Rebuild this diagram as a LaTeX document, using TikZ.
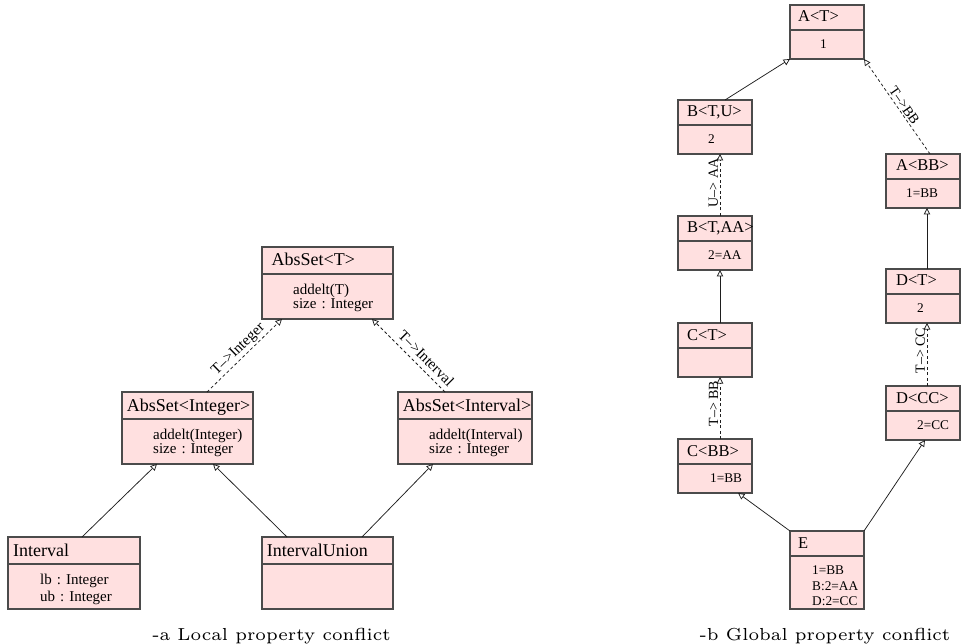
\documentclass[tikz,border=0pt]{standalone}
\usepackage{fontspec}
\usepackage{graphicx}
\newfontfamily\umlfont{Liberation Serif}
\usetikzlibrary{arrows.meta}
\frenchspacing

\definecolor{classfill}{RGB}{255,224,224}
\definecolor{classline}{RGB}{75,75,75}
\definecolor{linkline}{RGB}{30,30,30}

\tikzset{
  classbox/.style={draw=classline, fill=classfill, line width=1.1pt,
    inner sep=0pt, outer sep=0pt, anchor=north west},
  classrule/.style={draw=classline, line width=1.1pt},
  titletext/.style={anchor=base west, inner sep=0pt,
    font=\umlfont\fontsize{18}{20}\selectfont},
  bodytext/.style={anchor=base west, inner sep=0pt, text width=120pt, align=left,
    font=\umlfont\fontsize{15}{14}\selectfont},
  inherit/.style={draw=linkline, line width=0.75pt,
    -{Triangle[open, length=6.5pt, width=6.5pt, line width=0.75pt]}},
  bind/.style={inherit, dash pattern=on 3pt off 2.5pt},
  bindlabel/.style={sloped, inner sep=1.5pt, font=\umlfont\fontsize{15}{16}\selectfont},
  caption/.style={inner sep=0pt, anchor=base},
}

% #1 name, #2 top-left corner, #3 width, #4 height, #5 title indent,
% #6 title, #7 body indent, #8 extra body style, #9 body lines
\newcommand\umlclass[9]{%
  \node[classbox, minimum width=#3, minimum height=#4] (#1) at (#2) {};
  \draw[classrule] ([yshift=-\titleband]#1.north west) -- ([yshift=-\titleband]#1.north east);
  \node[titletext] (#1-title) at ([xshift=#5, yshift=-\titlebase]#1.north west) {#6};
  \node[bodytext, #8] (#1-body) at ([xshift=#7, yshift=-\titleband-\bodybase]#1.north west) {#9};
}

\begin{document}
\begin{tikzpicture}[x=1pt, y=-1pt]
\useasboundingbox (0,0) rectangle (961,644);

% ---------- local property conflict ----------
\begin{scope}
  \def\titleband{27}\def\titlebase{19}\def\bodybase{20.5}
  \umlclass{AbsSetT}{262,247}{131}{72}{9.5}{AbsSet<T>}{31}{}{addelt(T)\\size : Integer}
  \umlclass{AbsSetInteger}{122,392}{131}{72}{4.7}{AbsSet<Integer>}{31}{}{addelt(Integer)\\size : Integer}
  \umlclass{AbsSetInterval}{398,392}{134}{72}{4.7}{AbsSet<Interval>}{31}{}{addelt(Interval)\\size : Integer}
  \umlclass{Interval}{8,537}{132}{72}{5}{Interval}{32}{font=\umlfont\fontsize{15}{17}\selectfont}{lb : Integer\\ub : Integer}
  \umlclass{IntervalUnion}{262,537}{131}{72}{4.7}{IntervalUnion}{31}{}{}

  \draw[inherit] ([xshift=74]Interval.north west) -- ([xshift=35]AbsSetInteger.south west);
  \draw[inherit] ([xshift=25]IntervalUnion.north west) -- ([xshift=91]AbsSetInteger.south west);
  \draw[inherit] ([xshift=100]IntervalUnion.north west) -- ([xshift=35]AbsSetInterval.south west);
  \draw[bind] ([xshift=85]AbsSetInteger.north west)
    -- node[bindlabel, above, pos=0.5] (lblInteger) {T–>Integer} ([xshift=20]AbsSetT.south west);
  \draw[bind] ([xshift=47]AbsSetInterval.north west)
    -- node[bindlabel, above=3.5pt, pos=0.36] (lblInterval) {T–>Interval} ([xshift=110]AbsSetT.south west);

  \node[caption] (capA) at (271.5,640)
    {\scalebox{2.9}{\fontsize{6}{7}\selectfont -a Local property conflict}};
\end{scope}

% ---------- global property conflict ----------
\begin{scope}[
    titletext/.append style={font=\umlfont\fontsize{16.5}{18}\selectfont},
    bodytext/.append style={font=\umlfont\fontsize{13.3}{15.5}\selectfont},
    bindlabel/.append style={font=\umlfont\fontsize{14}{15}\selectfont}]
  \def\titleband{25}\def\titlebase{17}\def\bodybase{18.5}
  \umlclass{AT}{790,5}{74}{54}{8}{A<T>}{30}{}{1}
  \umlclass{BTU}{678,100}{74}{54}{9}{B<T,U>}{30}{}{2}
  \umlclass{ABB}{886,154}{74}{54}{10}{A<BB>}{20}{}{1=BB}
  \umlclass{BTAA}{678,216}{74}{54}{9}{B<T,AA>}{30}{}{2=AA}
  \umlclass{DT}{886,269}{74}{54}{10}{D<T>}{31}{}{2}
  \umlclass{CT}{678,323}{74}{54}{9}{C<T>}{30}{}{}
  \umlclass{DCC}{886,386}{74}{54}{10}{D<CC>}{31}{}{2=CC}
  \umlclass{CBB}{678,439}{74}{54}{9}{C<BB>}{32}{}{1=BB}
  \umlclass{E}{790,531}{74}{78}{8}{E}{22}{}{1=BB\\B:2=AA\\D:2=CC}

  \draw[inherit] ([xshift=47]BTU.north west) -- (AT.south west);
  \draw[bind] ([xshift=44]ABB.north west)
    -- node[bindlabel, above, pos=0.47] (lblBB) {T–>BB} (AT.south east);
  \draw[bind] ([xshift=42]BTAA.north west)
    -- node[bindlabel, above, pos=0.53] (lblAA) {U–> AA} ([xshift=42]BTU.south west);
  \draw[inherit] ([xshift=42]CT.north west) -- ([xshift=42]BTAA.south west);
  \draw[inherit] ([xshift=41]DT.north west) -- ([xshift=41]ABB.south west);
  \draw[bind] ([xshift=42]CBB.north west)
    -- node[bindlabel, above, pos=0.57] (lblCBB) {T–> BB} ([xshift=42]CT.south west);
  \draw[bind] ([xshift=41]DCC.north west)
    -- node[bindlabel, above, pos=0.56] (lblCC) {T–> CC} ([xshift=41]DT.south west);
  \draw[inherit] (E.north west) -- ([xshift=60]CBB.south west);
  \draw[inherit] (E.north east) -- ([xshift=39]DCC.south west);

  \node[caption] (capB) at (825,640)
    {\scalebox{2.9}{\fontsize{6}{7}\selectfont -b Global property conflict}};
\end{scope}
\end{tikzpicture}
\end{document}
